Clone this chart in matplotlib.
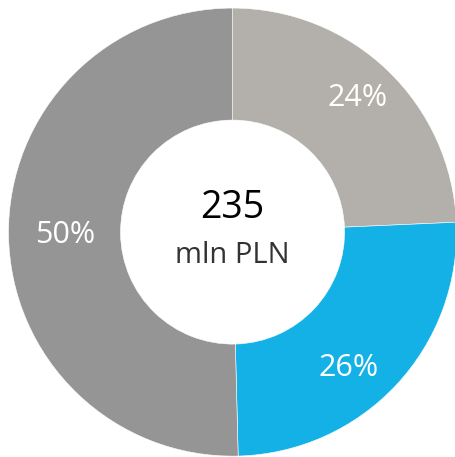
import matplotlib
matplotlib.use("Agg")
import matplotlib.pyplot as plt

# data
shares = [24.3, 25.3, 50.4]
labels = ["24%", "26%", "50%"]
colors = ["#B3B0AB", "#14B1E6", "#959595"]
center_value = "235"
center_unit = "mln PLN"

plt.rcParams['font.family'] = ['Open Sans', 'DejaVu Sans']

fig = plt.figure(figsize=(4.55, 4.57), dpi=100)
ax = fig.add_axes([0, 0, 1, 1])
ax.pie(shares, colors=colors, startangle=90, counterclock=False,
       radius=1.0, wedgeprops=dict(width=0.5, edgecolor="white", linewidth=0.4))
ax.set_aspect('auto')
ax.set_xlim(-1.038, 0.993)
ax.set_ylim(-1.004, 1.036)
ax.axis('off')

label_pos = [(0.560, 0.598), (0.520, -0.607), (-0.748, -0.013)]
for (x, y), t in zip(label_pos, labels):
    ax.text(x, y, t, color="white", fontsize=22, ha="center", va="center")

ax.text(0.0, 0.107, center_value, color="black", fontsize=27, ha="center", va="center")
ax.text(0.0, -0.103, center_unit, color="#333333", fontsize=21, ha="center", va="center")

fig.savefig("out.png", dpi=100)
